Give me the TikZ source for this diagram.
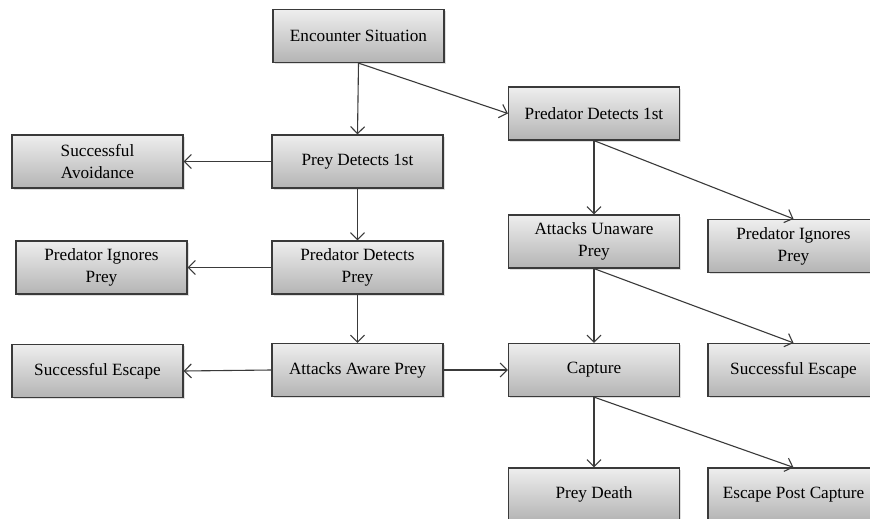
\documentclass[tikz,border=0pt]{standalone}
\usepackage{fontspec}
\setmainfont{Liberation Serif}
\usepackage{tikz}
\usetikzlibrary{arrows.meta,%
                shadows}

\definecolor{boxline}{HTML}{3A3A3A}
\definecolor{boxtop}{HTML}{EEEEEE}
\definecolor{boxbottom}{HTML}{B4B4B4}

\begin{document}
\begin{tikzpicture}[x=1pt,y=-1pt,
		stage/.style={draw=boxline,line width=1.2pt,top color=boxtop,bottom color=boxbottom,
			minimum width=171pt,minimum height=53pt,inner sep=2pt,align=center,
			font=\fontsize{17.2}{22}\selectfont,
			drop shadow={shadow xshift=1.5pt,shadow yshift=-1.5pt,opacity=0.25}},
		flow/.style={draw=boxline,line width=1.1pt,-{Straight Barb[length=7pt,width=14pt]}}]
		\useasboundingbox (0,0) rectangle (870,519);
		\clip (0,0) rectangle (870,519);
		\fill[white] (0,0) rectangle (870,519);
		% aware prey branch
		\node[stage] (enc) at (358.5,36) {Encounter Situation};
		\node[stage] (preyfirst) at (357.5,161.5) {Prey Detects 1st};
		\node[stage] (avoid) at (97.5,161.5) {Successful\\Avoidance};
		\node[stage] (detprey) at (357.5,267.5) {Predator Detects\\Prey};
		\node[stage] (ignoreL) at (101.5,267.5) {Predator Ignores\\Prey};
		\node[stage] (aware) at (357.5,370) {Attacks Aware Prey};
		\node[stage] (escL) at (97.5,371) {Successful Escape};
		% unaware prey branch
		\node[stage] (predfirst) at (594,113.5) {Predator Detects 1st};
		\node[stage] (unaware) at (594,241.5) {Attacks Unaware\\Prey};
		\node[stage] (ignoreR) at (793.5,246) {Predator Ignores\\Prey};
		\node[stage] (capture) at (594,370) {Capture};
		\node[stage] (escR) at (793.5,370) {Successful Escape};
		\node[stage] (death) at (594,494.5) {Prey Death};
		\node[stage] (postcap) at (793.5,494.5) {Escape Post Capture};
		%\draw[help lines] (0,0) grid[step=50] (870,519);
		\draw[flow] (enc.south) -- (preyfirst.north);
		\draw[flow] (enc.south) -- (predfirst.west);
		\draw[flow] (preyfirst.west) -- (avoid.east);
		\draw[flow] (preyfirst.south) -- (detprey.north);
		\draw[flow] (detprey.west) -- (ignoreL.east);
		\draw[flow] (detprey.south) -- (aware.north);
		\draw[flow] (aware.west) -- (escL.east);
		\draw[flow] (aware.east) -- (capture.west);
		\draw[flow] (predfirst.south) -- (unaware.north);
		\draw[flow] (predfirst.south) -- (ignoreR.north);
		\draw[flow] (unaware.south) -- (capture.north);
		\draw[flow] (unaware.south) -- (escR.north);
		\draw[flow] (capture.south) -- (death.north);
		\draw[flow] (capture.south) -- (postcap.north);
	\end{tikzpicture}
\end{document}
